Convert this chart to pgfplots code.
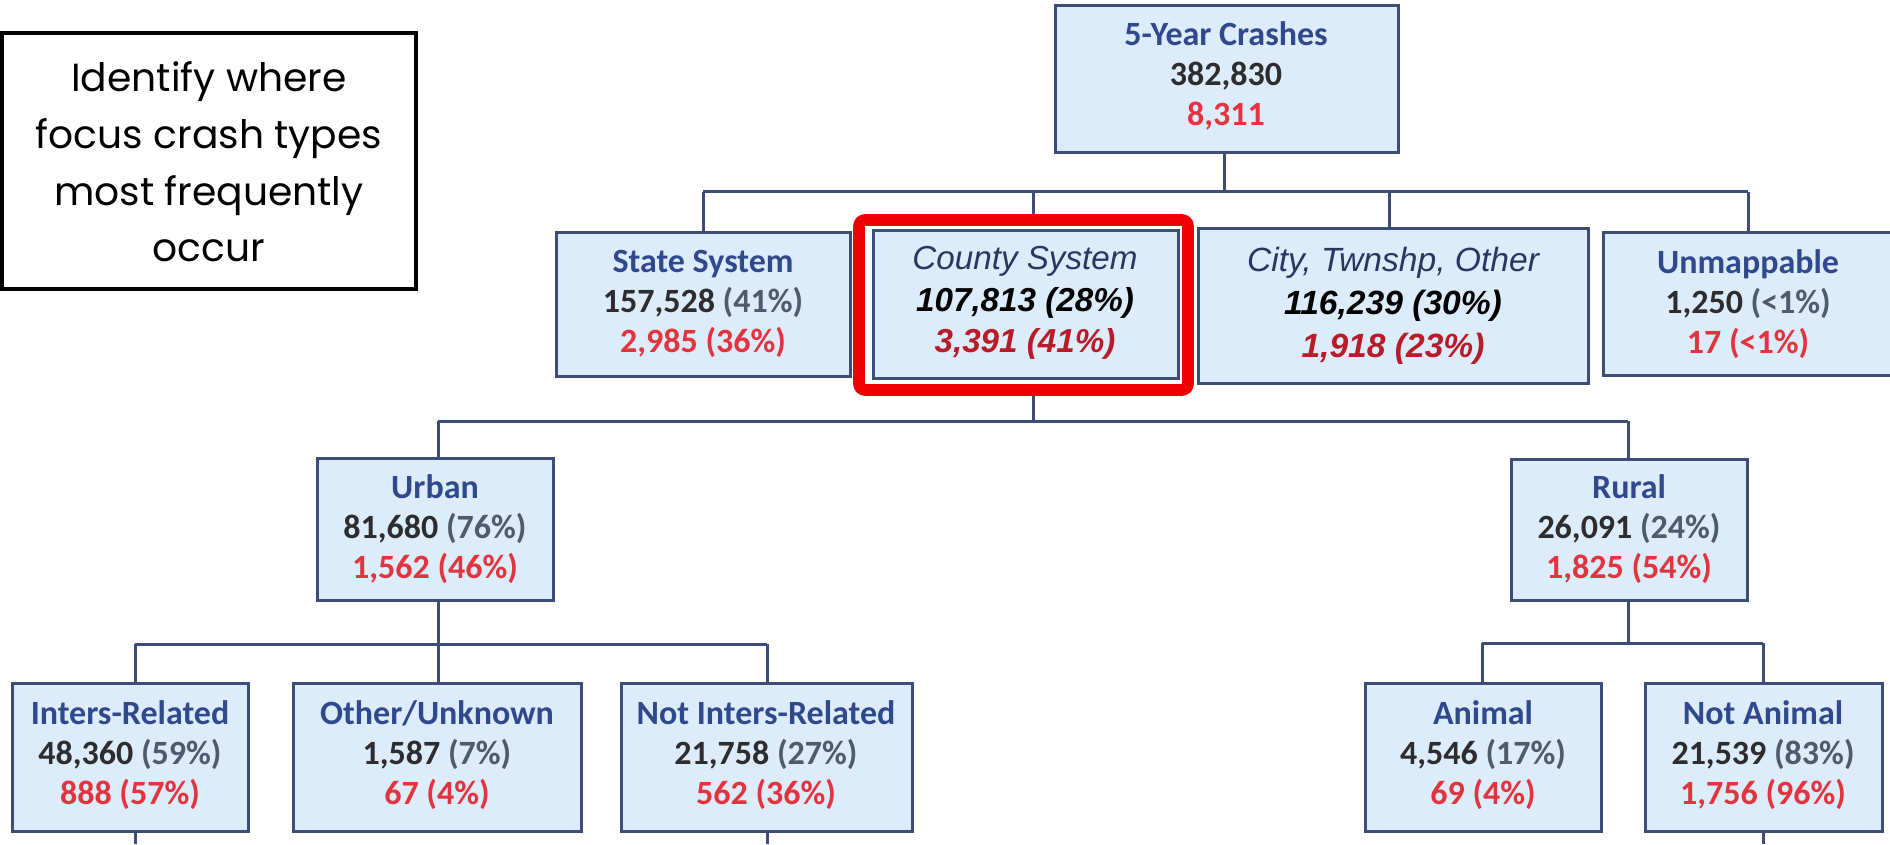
\documentclass[border=0pt]{standalone}
\usepackage{fontspec}
\setmainfont{Carlito}
\newfontfamily\arialf{Liberation Sans}
\newfontfamily\popf{Poppins}
\usepackage{pgfplots}
\pgfplotsset{compat=1.18}
\definecolor{boxfill}{RGB}{221,236,250}
\definecolor{boxline}{RGB}{62,76,120}
\definecolor{ttl}{RGB}{48,72,140}
\definecolor{ttlit}{RGB}{40,55,95}
\definecolor{num}{RGB}{45,45,48}
\definecolor{pct}{RGB}{80,90,110}
\definecolor{rednum}{RGB}{226,52,62}
\definecolor{redit}{RGB}{185,28,40}
\definecolor{hl}{RGB}{238,0,0}
% box: x1 x2 y1 y2 (pixel coordinates, y downward)
\newcommand{\cbox}[4]{\addplot[draw=boxline, fill=boxfill, line width=0.75pt, mark=none] coordinates {(#1,#3) (#2,#3) (#2,#4) (#1,#4)} --cycle;}
\newcommand{\conn}[4]{\addplot[draw=boxline, line width=0.75pt, mark=none] coordinates {(#1,#2) (#3,#4)};}
\newcommand{\ctext}[5]{\node[align=center, font={\fontsize{8.5pt}{10pt}\selectfont\bfseries}] at (axis cs:#1,#2) {\textcolor{ttl}{#3}\\ #4\\ #5};}
\begin{document}
\begin{tikzpicture}
\begin{axis}[width=472.5pt, height=211pt, scale only axis,
  xmin=0, xmax=1890, ymin=0, ymax=844, y dir=reverse,
  axis lines=none, ticks=none, clip=true]
% connectors
\conn{1224}{153}{1224}{192}
\conn{703}{192}{1748}{192}
\conn{703}{192}{703}{233}
\conn{1033}{192}{1033}{221}
\conn{1389}{192}{1389}{229}
\conn{1748}{192}{1748}{233}
\conn{1033}{390}{1033}{421}
\conn{438}{421}{1628}{421}
\conn{438}{421}{438}{458}
\conn{1628}{421}{1628}{459}
\conn{438}{600}{438}{644}
\conn{135}{644}{767}{644}
\conn{135}{644}{135}{683}
\conn{438}{644}{438}{683}
\conn{767}{644}{767}{683}
\conn{1628}{600}{1628}{643}
\conn{1482}{643}{1763}{643}
\conn{1482}{643}{1482}{683}
\conn{1763}{643}{1763}{683}
\conn{135}{831}{135}{844}
\conn{767}{831}{767}{844}
\conn{1763}{831}{1763}{844}
% boxes
\cbox{1055}{1398}{6}{153}
\cbox{556}{850}{233}{376}
\cbox{873}{1178}{231}{378}
\cbox{1198}{1588}{229}{383}
\cbox{1603}{1893}{233}{375}
\cbox{317}{553}{458}{600}
\cbox{1511}{1747}{459}{600}
\cbox{12}{248}{683}{831}
\cbox{293}{581}{683}{831}
\cbox{621}{912}{683}{831}
\cbox{1365}{1601}{683}{831}
\cbox{1645}{1882}{683}{831}
% highlight
\addplot[draw=hl, line width=2.9pt, line join=round, rounded corners=1.5pt, mark=none] coordinates {(859,220) (1188,220) (1188,390) (859,390)} --cycle;
% left note box
\addplot[draw=black, fill=white, line width=1pt, mark=none] coordinates {(2,33) (416,33) (416,289) (2,289)} --cycle;
\node[align=center, font={\popf\fontsize{9.8pt}{14.2pt}\selectfont}] at (axis cs:209,162) {Identify where\\ focus crash types\\ most frequently\\ occur};
% texts
\ctext{1226}{76}{5-Year Crashes}{\textcolor{num}{382,830}}{\textcolor{rednum}{8,311}}
\ctext{703}{304}{State System}{\textcolor{num}{157,528} \textcolor{pct}{(41\%)}}{\textcolor{rednum}{2,985 (36\%)}}
\node[align=center, font={\arialf\fontsize{8.3pt}{10.3pt}\selectfont\itshape}] at (axis cs:1025,303) {\textcolor{ttlit}{County System}\\ \textbf{\textcolor{black}{107,813 (28\%)}}\\ \textbf{\textcolor{redit}{3,391 (41\%)}}};
\node[align=center, font={\arialf\fontsize{8.4pt}{10.8pt}\selectfont\itshape}] at (axis cs:1393,306) {\textcolor{ttlit}{City, Twnshp, Other}\\ \textbf{\textcolor{black}{116,239 (30\%)}}\\ \textbf{\textcolor{redit}{1,918 (23\%)}}};
\ctext{1748}{304}{Unmappable}{\textcolor{num}{1,250} \textcolor{pct}{(<1\%)}}{\textcolor{rednum}{17 (<1\%)}}
\ctext{435}{529}{Urban}{\textcolor{num}{81,680} \textcolor{pct}{(76\%)}}{\textcolor{rednum}{1,562 (46\%)}}
\ctext{1629}{529}{Rural}{\textcolor{num}{26,091} \textcolor{pct}{(24\%)}}{\textcolor{rednum}{1,825 (54\%)}}
\ctext{130}{755}{Inters-Related}{\textcolor{num}{48,360} \textcolor{pct}{(59\%)}}{\textcolor{rednum}{888 (57\%)}}
\ctext{437}{755}{Other/Unknown}{\textcolor{num}{1,587} \textcolor{pct}{(7\%)}}{\textcolor{rednum}{67 (4\%)}}
\ctext{766}{755}{Not Inters-Related}{\textcolor{num}{21,758} \textcolor{pct}{(27\%)}}{\textcolor{rednum}{562 (36\%)}}
\ctext{1483}{755}{Animal}{\textcolor{num}{4,546} \textcolor{pct}{(17\%)}}{\textcolor{rednum}{69 (4\%)}}
\ctext{1763}{755}{Not Animal}{\textcolor{num}{21,539} \textcolor{pct}{(83\%)}}{\textcolor{rednum}{1,756 (96\%)}}
\end{axis}
\pgfresetboundingbox
\useasboundingbox (current axis.south west) rectangle (current axis.north east);
\end{tikzpicture}
\end{document}
